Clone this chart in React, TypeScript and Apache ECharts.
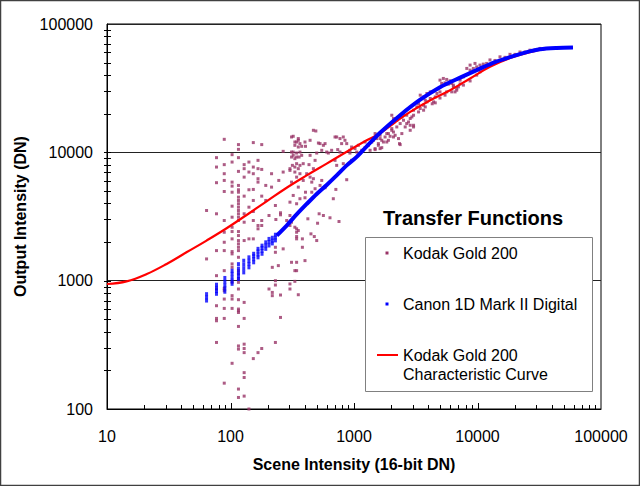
import React, { useEffect, useRef } from "react";
import * as echarts from "echarts";

// ---- axis tick definitions ----
const xMajorTicks = [100, 1000, 10000];
const yMajorTicks = [1000, 10000];
const xDecades = [10, 100, 1000, 10000];
const yDecades = [100, 1000, 10000];
const minorMultipliers = [2, 3, 4, 5, 6, 7, 8, 9];

// ---- Kodak Gold 200 scatter (scene DN, output DN) ----
const kodakGold200Points: number[][] = [
  [89, 12630], [153, 11910], [179, 11490], [116, 11490], [116, 10550], [103, 9590], [116, 9090], [77, 9090],
  [167, 8660], [141, 8400], [89, 8020], [129, 8020], [129, 7460], [153, 7680], [77, 7680], [103, 8400],
  [167, 7460], [179, 7360], [116, 7105], [141, 7020], [89, 6815], [215, 6815], [153, 6815], [167, 6230],
  [167, 5860], [129, 6410], [89, 6040], [77, 5800], [103, 5860], [103, 5455], [116, 5523], [193, 5523],
  [215, 5357], [153, 5140], [141, 5110], [116, 5110], [116, 4890], [103, 4890], [89, 4955], [129, 4557],
  [179, 4557], [153, 4217], [193, 4217],
  [116, 4475], [116, 4217], [116, 3975], [116, 3738], [116, 3523], [116, 3320], [116, 3123], [116, 2943],
  [103, 3806], [141, 3738], [231, 3854], [64, 3523], [77, 3320], [129, 3320], [153, 3460], [205, 3220],
  [179, 2943], [254, 3380], [103, 3123], [89, 2943], [103, 2609], [103, 2414], [167, 2690], [167, 2535],
  [153, 2943], [179, 2690], [129, 2854], [89, 2384],
  [116, 2414], [116, 2247], [116, 2054], [116, 1935], [116, 1820], [116, 1715],
  [129, 2054], [141, 2117], [153, 2117], [103, 2117], [89, 1992], [89, 1715], [103, 1685], [103, 1617],
  [77, 1715], [64, 1477], [116, 1521], [231, 1820], [231, 1664], [267, 1769], [343, 2117], [218, 1270],
  [244, 1310], [89, 1197], [77, 1094], [103, 1351], [103, 1270],
  [116, 1197], [116, 1128], [116, 1031], [116, 970], [116, 861],
  [343, 1197], [231, 1000], [205, 861], [218, 810], [218, 764], [254, 773], [231, 925], [303, 943],
  [303, 861], [77, 861], [89, 871], [89, 835], [103, 970], [103, 764], [103, 719], [103, 608],
  [89, 719], [116, 711], [116, 601], [129, 677], [77, 638], [89, 608], [77, 508], [77, 487],
  [89, 508], [116, 583], [116, 565], [129, 508], [254, 517], [116, 440], [77, 330], [231, 330],
  [116, 310], [116, 293], [129, 320], [129, 296], [129, 275], [179, 296], [167, 275], [153, 247],
  [103, 227], [129, 192], [129, 176], [89, 159], [116, 143], [129, 126], [116, 123], [141, 100],
  [312, 13170], [332, 12035], [354, 12410], [322, 9475], [343, 9190], [303, 7460], [332, 7020], [354, 7460],
  [312, 10050], [267, 10180], [267, 7020], [246, 6040], [254, 3260], [233, 2997], [285, 2943], [303, 2690],
  [343, 2535], [343, 2384], [343, 1390], [303, 3220],
  [322, 13340], [354, 12800], [343, 12035], [365, 11695], [332, 11340], [354, 11000], [377, 11140], [401, 12035],
  [441, 12410], [405, 11140], [322, 10050], [343, 9875], [365, 10050], [312, 9190], [332, 8930], [359, 9190],
  [377, 9475], [388, 8160], [343, 8160], [317, 7915], [303, 7234], [332, 7680], [365, 7915], [491, 14670],
  [515, 11820], [583, 11695], [548, 10370], [620, 9875], [659, 10370], [702, 8660], [738, 10500], [441, 9475],
  [484, 8660], [499, 9875], [432, 8020], [469, 7460], [414, 6815], [365, 6815], [343, 6410], [388, 6040],
  [455, 5860], [441, 6410], [469, 6230], [354, 5357], [405, 4890], [455, 4890], [484, 5205], [312, 5860],
  [322, 4614], [303, 4090], [343, 3975], [365, 4350], [401, 4426], [531, 5523], [583, 5300], [548, 6040],
  [873, 6120], [713, 5140], [680, 4350], [522, 3320], [565, 3220], [639, 3090], [756, 2890], [423, 3034],
  [507, 2803], [312, 2854], [332, 2609], [354, 2458], [343, 2207], [382, 2117], [448, 2316], [477, 2207],
  [499, 2054], [382, 1820], [312, 1390], [401, 1433], [332, 1197], [332, 988], [354, 777],
  [724, 13170], [770, 12800], [819, 13170], [845, 12410], [873, 11695], [794, 11695], [956, 11000], [1019, 10690],
  [1084, 11340], [1052, 10050], [1155, 10370], [1229, 10880], [1309, 11340], [1350, 10370], [1392, 12035], [1482, 10690],
  [1527, 12800], [1575, 11695], [1627, 13580], [1678, 12410], [1785, 13170], [1842, 12035], [1900, 14000], [1785, 15310],
  [2023, 16760], [2023, 14850], [2087, 13170], [1482, 14000], [1229, 12035], [1119, 9875], [927, 10370],
  [469, 14850], [531, 11695], [601, 10050], [565, 11340], [702, 13170], [770, 10050], [927, 9875], [956, 8660],
  [724, 7915], [819, 8160],
  [1436, 12410], [1527, 13580], [1627, 12800], [1575, 11340], [1731, 12035], [1842, 14000], [1482, 10500], [1678, 10880],
  [1900, 12410], [1960, 13340], [2087, 14400], [2221, 15770], [2365, 16760], [2517, 17780], [2440, 14000], [2292, 12800],
  [2336, 11695], [2153, 13580], [2023, 15310], [2597, 15770], [2764, 17250], [2852, 16250], [3035, 16250], [2023, 19460],
  [2087, 18340], [2221, 17780], [2440, 18870], [2517, 20050], [2672, 19460], [2852, 18340], [2942, 18870], [3035, 21280],
  [3230, 22590], [3438, 21950], [3332, 24000], [3660, 23290], [3895, 24720], [3775, 25480], [4145, 26280], [4410, 24720],
  [4550, 27040], [4695, 28750], [4970, 29580], [3438, 27890], [3660, 27040], [3895, 28750], [4145, 29580], [4970, 36520],
  [5290, 37650], [5630, 36980], [5995, 36060], [5130, 34410], [5460, 34780], [5810, 33980], [6185, 34410], [6790, 30500],
  [7010, 32370], [6580, 29580], [6380, 33370], [7230, 36520], [7690, 38750], [8710, 43720], [9250, 45060], [9850, 46380],
  [10470, 47830], [11140, 48700], [11860, 49300], [8190, 45060], [8710, 47830], [9545, 49300], [10470, 42400], [9850, 39970],
  [4550, 24300], [3035, 15770], [2852, 14850], [1627, 10690], [2365, 11490], [6790, 31600], [7230, 34100], [5630, 29580],
  [6380, 32370],
  [3332, 20650], [3775, 22590], [4300, 23900], [5460, 27900], [6185, 29600], [7690, 33400], [8710, 36000], [3035, 19460],
  [2672, 16760], [3660, 21300], [4970, 26500],
  [12620, 52500], [15210, 55500], [18330, 58000], [22080, 60500], [26610, 62500], [32060, 64500], [13860, 52000], [16700, 55000],
  [20120, 58000], [24250, 60500], [29220, 62800],
];

// ---- Canon 1D Mark II: quantised low-end columns ----
const canonColumnPoints: number[][] = [
  [64, 700], [64, 740], [64, 785],
  [77, 790], [77, 830], [77, 880], [77, 930],
  [90, 820], [90, 870], [90, 920], [90, 980], [90, 1050],
  [103, 945], [103, 1000], [103, 1060], [103, 1130], [103, 1195],
  [116, 1030], [116, 1090], [116, 1160], [116, 1240], [116, 1345],
  [128, 1160], [128, 1240], [128, 1330], [128, 1430],
  [141, 1270], [141, 1350], [141, 1430], [141, 1520],
  [154, 1390], [154, 1470], [154, 1550], [154, 1620],
  [167, 1520], [167, 1600], [167, 1690], [167, 1770],
  [180, 1620], [180, 1710], [180, 1800], [180, 1875],
  [193, 1770], [193, 1880], [193, 1990],
  [205, 1880], [205, 2000], [205, 2115],
  [218, 1950], [218, 2050], [218, 2160],
  [231, 2060], [231, 2170], [231, 2280],
];

// ---- Canon 1D Mark II: dense upper part ----
const canonCurveX = [237, 285, 343, 414, 499, 601, 724, 873, 1052, 1268, 1627, 2365, 3438, 4970, 7230, 10470, 13860, 18330, 24250, 32060, 43750, 59300];
const canonCurveY = [2248, 2690, 3280, 3960, 4740, 5570, 6610, 7910, 9220, 11140, 14200, 19460, 25700, 32200, 38200, 44900, 50500, 55230, 59850, 63500, 65000, 65500];

// ---- Kodak Gold 200 characteristic curve ----
const curveX = [10, 14.4, 21, 30.4, 44, 64, 93, 135, 196, 285, 414, 601, 873, 1268, 1627, 2153, 2852, 4145, 5995, 8710, 12620, 18330, 26610, 38640, 59300];
const curveY = [942, 988, 1127, 1350, 1663, 2053, 2560, 3250, 4150, 5300, 6610, 8160, 10100, 12410, 14070, 17150, 20650, 25480, 30500, 37650, 46380, 54250, 60430, 64400, 65500];

const FONT = "'Liberation Sans', Arial, Helvetica, sans-serif";
const PURPLE = "#993366";
const BLUE = "#0000ff";
const RED = "#ff0000";

export default function App() {
  const ref = useRef<HTMLDivElement>(null);

  useEffect(() => {
    document.body.style.margin = "0";
    if (!ref.current) return;
    const chart = echarts.init(ref.current, null, { renderer: "svg" });

    const xMinorTicks = xDecades.flatMap((d) => minorMultipliers.map((m) => d * m));
    const yMinorTicks = yDecades.flatMap((d) => minorMultipliers.map((m) => d * m));

    const legendGraphic: any[] = [
      {
        type: "text",
        left: 383,
        top: 208,
        z: 10,
        style: { text: "Transfer Functions", fontFamily: FONT, fontSize: 20, fontWeight: "bold", fill: "#000" },
      },
      {
        type: "rect",
        shape: { x: 365.5, y: 237.5, width: 227, height: 154 },
        style: { fill: "#fff", stroke: "#808080", lineWidth: 1 },
        z: 10,
      },
      { type: "rect", shape: { x: 385.5, y: 251.5, width: 3, height: 3 }, style: { fill: PURPLE }, z: 11 },
      { type: "rect", shape: { x: 385.5, y: 302.5, width: 3, height: 3 }, style: { fill: BLUE }, z: 11 },
      { type: "line", shape: { x1: 377, y1: 355, x2: 398, y2: 355 }, style: { stroke: RED, lineWidth: 2 }, z: 11 },
      {
        type: "text", x: 403, y: 253, z: 11,
        style: { text: "Kodak Gold 200", fontFamily: FONT, fontSize: 16, fill: "#000", verticalAlign: "middle" },
      },
      {
        type: "text", x: 403, y: 304, z: 11,
        style: { text: "Canon 1D Mark II Digital", fontFamily: FONT, fontSize: 16, fill: "#000", verticalAlign: "middle" },
      },
      {
        type: "text", x: 403, y: 355, z: 11,
        style: { text: "Kodak Gold 200", fontFamily: FONT, fontSize: 16, fill: "#000", verticalAlign: "middle" },
      },
      {
        type: "text", x: 403, y: 374, z: 11,
        style: { text: "Characteristic Curve", fontFamily: FONT, fontSize: 16, fill: "#000", verticalAlign: "middle" },
      },
      {
        type: "rect",
        shape: { x: 0.5, y: 0.5, width: 639, height: 485 },
        style: { fill: "none", stroke: "#404040", lineWidth: 1.5 },
        z: 20,
        silent: true,
      },
    ];

    const option: any = {
      animation: false,
      backgroundColor: "#ffffff",
      grid: {
        left: 107,
        right: 39,
        top: 24,
        bottom: 77,
        show: true,
        borderColor: "#000",
        borderWidth: 1,
        backgroundColor: "transparent",
      },
      xAxis: {
        type: "log",
        logBase: 10,
        min: 10,
        max: 100000,
        name: "Scene Intensity (16-bit DN)",
        nameLocation: "middle",
        nameGap: 47,
        nameTextStyle: { fontFamily: FONT, fontSize: 16, fontWeight: "bold", color: "#000" },
        axisLine: { show: true, lineStyle: { color: "#000", width: 1 } },
        axisTick: { show: false },
        axisLabel: { fontFamily: FONT, fontSize: 16, color: "#000", margin: 19, formatter: (v: number) => String(v) },
        splitLine: { show: false },
      },
      yAxis: {
        type: "log",
        logBase: 10,
        min: 100,
        max: 100000,
        name: "Output Intensity (DN)",
        nameLocation: "middle",
        nameGap: 70,
        nameTextStyle: { fontFamily: FONT, fontSize: 16, fontWeight: "bold", color: "#000" },
        axisLine: { show: true, lineStyle: { color: "#000", width: 1 } },
        axisTick: { show: false },
        axisLabel: { fontFamily: FONT, fontSize: 16, color: "#000", margin: 14, formatter: (v: number) => String(v) },
        splitLine: { show: true, lineStyle: { color: "#222", width: 1 } },
      },
      series: [
        {
          name: "Kodak Gold 200",
          type: "scatter",
          data: kodakGold200Points,
          symbol: "rect",
          symbolSize: 3,
          itemStyle: { color: PURPLE },
          z: 2,
        },
        {
          name: "Kodak Gold 200 Characteristic Curve",
          type: "line",
          data: curveX.map((x, i) => [x, curveY[i]]),
          smooth: 0.4,
          symbol: "none",
          lineStyle: { color: RED, width: 2.2 },
          z: 3,
        },
        {
          name: "Canon 1D Mark II Digital",
          type: "scatter",
          data: canonColumnPoints,
          symbol: "rect",
          symbolSize: [3, 4],
          itemStyle: { color: BLUE },
          z: 4,
        },
        {
          name: "Canon 1D Mark II Digital",
          type: "line",
          data: canonCurveX.map((x, i) => [x, canonCurveY[i]]),
          smooth: 0.3,
          symbol: "none",
          lineStyle: { color: BLUE, width: 4 },
          z: 4,
        },
      ],
      graphic: legendGraphic,
    };

    chart.setOption(option);

    // Axis ticks placed through the chart's own log scales (thin filled rects, pointing inward).
    const tickGraphic: any[] = [];
    const addXTick = (v: number, len: number) => {
      const p = chart.convertToPixel({ xAxisIndex: 0, yAxisIndex: 0 }, [v, 100]) as any;
      if (!p || !isFinite(p[0]) || !isFinite(p[1])) return;
      const x = Math.round(p[0]);
      const y = Math.round(p[1]);
      tickGraphic.push({
        type: "rect",
        silent: true,
        z: 12,
        shape: { x: x, y: y - len, width: 1, height: len },
        style: { fill: "#000" },
      });
    };
    const addYTick = (v: number, len: number) => {
      const p = chart.convertToPixel({ xAxisIndex: 0, yAxisIndex: 0 }, [10, v]) as any;
      if (!p || !isFinite(p[0]) || !isFinite(p[1])) return;
      const x = Math.round(p[0]);
      const y = Math.round(p[1]);
      tickGraphic.push({
        type: "rect",
        silent: true,
        z: 12,
        shape: { x: x - 3, y: y, width: len + 3, height: 1 },
        style: { fill: "#000" },
      });
    };
    xMinorTicks.forEach((v) => addXTick(v, 4));
    xMajorTicks.forEach((v) => addXTick(v, 6));
    yMinorTicks.forEach((v) => addYTick(v, 4));
    yMajorTicks.forEach((v) => addYTick(v, 4));

    chart.setOption({ graphic: [...legendGraphic, ...tickGraphic] });

    return () => chart.dispose();
  }, []);

  return <div ref={ref} style={{ width: 640, height: 486 }} />;
}
